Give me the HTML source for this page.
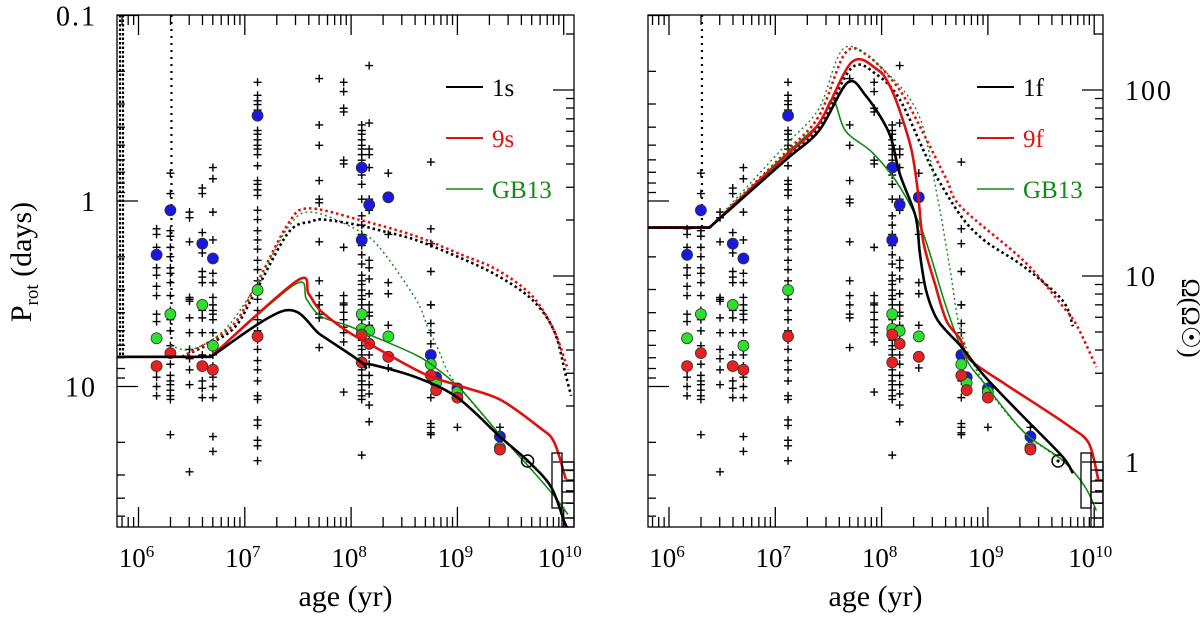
<!DOCTYPE html>
<html><head><meta charset="utf-8"><style>
html,body{margin:0;padding:0;background:#fff;}
svg{display:block;font-family:"Liberation Serif","DejaVu Serif",serif;}
</style></head><body>
<svg id="fig" width="1200" height="624" viewBox="0 0 1200 624" xmlns="http://www.w3.org/2000/svg"></svg>
<script>
// ===== data (log10 age in yr; left panel: log10 P_rot [days]; right panel: log10 Omega [Omega_sun]) =====
const clusterLogAge = [6.17,6.30,6.48,6.60,6.70,7.12,7.70,7.93,8.10,8.17,8.35,8.75,9.00,9.40];
const clusterLogP = [
 [0.15,0.18,0.25,0.36,0.40,0.46,0.51,0.61,0.65,0.91,0.95,1.00,1.05],
 [-0.15,-0.04,0.16,0.19,0.25,0.30,0.36,0.39,0.44,0.51,0.61,0.59,0.64,0.70,0.78,0.83,0.88,0.94,0.97,0.99,1.02,1.05,1.07,1.26],
 [0.06,0.09,0.22,0.52,0.54,0.53,0.63,0.71,0.80,0.85,0.91,0.99,1.46],
 [-0.07,-0.04,0.17,0.28,0.38,0.41,0.44,0.55,0.59,0.63,0.71,0.83,0.97,1.01,1.06],
 [-0.18,-0.12,0.06,0.21,0.39,0.44,0.52,0.56,0.61,0.59,0.64,0.71,0.77,0.83,0.89,0.95,1.00,1.06,1.27,1.35],
 [-0.64,-0.57,-0.54,-0.52,-0.49,-0.38,-0.36,-0.33,-0.30,-0.28,-0.25,-0.19,-0.11,-0.09,-0.06,-0.03,0.05,0.10,0.16,0.21,0.26,0.32,0.37,0.43,0.48,0.53,0.59,0.64,0.70,0.75,0.80,0.86,0.91,0.97,1.05,1.07,1.18,1.21,1.29,1.32,1.40],
 [-0.66,-0.41,-0.30,-0.11,-0.01,0.01,0.22,0.43,0.51,0.61,0.56,0.63,0.79],
 [-0.64,-0.59,-0.50,-0.48,-0.22,-0.20,0.25,0.51,0.55,0.56,0.60,0.64,0.68,0.71,0.76,1.03],
 [-0.41,-0.38,-0.36,-0.33,-0.30,-0.28,-0.25,-0.22,-0.19,-0.17,-0.14,-0.09,-0.01,0.08,0.13,0.18,0.24,0.29,0.34,0.40,0.43,0.45,0.48,0.51,0.53,0.56,0.59,0.61,0.64,0.67,0.70,0.72,0.75,0.78,0.80,0.83,0.86,0.89,0.91,0.94,0.97,0.99,1.02,1.05,1.07,1.37],
 [-0.73,-0.42,-0.28,-0.25,-0.18,-0.01,0.05,0.32,0.36,0.42,0.50,0.60,0.56,0.62,0.67,0.72,0.78,0.83,0.88,0.94,0.99,1.04,1.10,1.19],
 [-0.15,0.18,0.44,0.50,0.67,0.85,0.90],
 [-0.21,0.15,0.23,0.38,0.56,0.56,0.66,0.71,0.77,0.83,0.89,0.97,1.06,1.20,1.22,1.25,1.26],
 [1.01,1.07,1.22],
 [1.22]
];
const blueAge  = [6.17,6.30,6.60,6.70,7.12,8.10,8.10,8.17,8.35,8.75,8.80,9.00,9.40];
const blueLogP = [0.29,0.05,0.23,0.31,-0.46,-0.18,0.21,0.02,-0.02,0.83,0.95,1.01,1.27];
const greenAge  = [6.17,6.30,6.60,6.70,7.12,8.10,8.10,8.17,8.35,8.75,8.80,9.00,9.40];
const greenLogP = [0.74,0.61,0.56,0.78,0.48,0.61,0.69,0.70,0.73,0.88,0.98,1.03,1.33];
const redAge  = [6.17,6.30,6.60,6.70,7.12,8.10,8.10,8.17,8.35,8.75,8.80,9.00,9.40];
const redLogP = [0.89,0.82,0.89,0.91,0.73,0.72,0.87,0.77,0.84,0.94,1.02,1.06,1.34];

// left panel model curves (log age, log P); first segment is the flat disk-locked phase
const s1Age = [5.80,6.68,7.38,7.71,8.00,8.12,8.14,8.17,8.61,9.00,9.40,9.66,9.88,10.00,10.04];
const s1LogP = [0.84,0.84,0.59,0.72,0.83,0.88,0.90,0.88,0.95,1.06,1.27,1.40,1.54,1.72,1.77];
const s9Age = [5.80,6.68,7.49,7.60,7.71,7.96,8.17,8.68,9.04,9.40,9.77,9.91,10.02];
const s9LogP = [0.84,0.84,0.43,0.50,0.59,0.70,0.77,0.93,1.00,1.07,1.22,1.30,1.50];
const sGBAge = [5.80,6.68,7.47,7.58,7.71,7.96,8.17,8.61,8.82,9.04,9.40,9.70,9.91,10.04];
const sGBLogP = [0.84,0.84,0.45,0.53,0.62,0.67,0.72,0.83,0.91,1.02,1.26,1.45,1.59,1.69];
const s1dAge = [6.41,6.87,7.09,7.41,7.63,7.74,8.07,8.28,8.61,9.04,9.37,9.70,9.91,10.02,10.07];
const s1dLogP = [0.84,0.70,0.50,0.17,0.11,0.10,0.13,0.16,0.21,0.31,0.40,0.53,0.70,0.94,1.05];
const s9dAge = [6.41,6.87,7.09,7.41,7.60,8.07,8.61,9.04,9.37,9.70,9.91,10.04];
const s9dLogP = [0.84,0.68,0.47,0.12,0.04,0.10,0.19,0.29,0.37,0.51,0.70,0.91];
const sGBdAge = [6.30,6.50,6.80,7.09,7.41,7.63,8.07,8.28,8.61,8.72,8.82,8.91,9.04,9.40,9.70];
const sGBdLogP = [0.78,0.80,0.70,0.47,0.14,0.06,0.16,0.26,0.53,0.68,0.80,0.92,1.02,1.26,1.45];

// right panel model curves (log age, log Omega)
const f1Age = [5.80,6.38,7.09,7.41,7.68,7.85,8.07,8.17,8.32,8.36,8.42,8.53,8.75,8.97,9.34,9.70,9.80];
const f1LogO = [1.26,1.26,1.62,1.78,2.04,1.97,1.77,1.55,1.32,1.12,0.92,0.76,0.62,0.46,0.24,0.03,-0.06];
const f9Age = [5.80,6.38,7.09,7.41,7.72,7.96,8.07,8.17,8.28,8.34,8.39,8.50,8.61,8.74,8.83,9.16,9.51,9.77,9.95,10.04];
const f9LogO = [1.26,1.26,1.64,1.82,2.15,2.11,2.03,1.89,1.68,1.46,1.19,0.96,0.76,0.66,0.55,0.42,0.29,0.19,0.10,-0.10];
const fGBAge = [5.80,6.38,7.09,7.41,7.54,7.66,7.92,8.17,8.39,8.61,8.79,8.97,9.34,9.70,9.91,10.02];
const fGBLogO = [1.26,1.26,1.65,1.82,1.95,1.78,1.66,1.48,1.23,0.83,0.56,0.42,0.16,0.01,-0.13,-0.26];
const f1dAge = [5.80,6.38,7.09,7.41,7.72,7.96,8.17,8.39,8.50,8.75,8.97,9.34,9.70,9.80];
const f1dLogO = [1.26,1.26,1.63,1.80,2.12,2.08,1.95,1.68,1.55,1.32,1.19,1.05,0.87,0.73];
const f9dAge = [5.80,6.38,7.09,7.41,7.66,7.88,8.17,8.39,8.61,8.75,9.34,9.70,9.84,10.02];
const f9dLogO = [1.26,1.26,1.66,1.86,2.20,2.18,2.00,1.77,1.52,1.37,1.08,0.84,0.73,0.51];
const fGBdAge = [6.38,7.09,7.41,7.66,8.07,8.36,8.53,8.64,8.75,8.97,9.34,9.70];
const fGBdLogO = [1.26,1.70,1.90,2.23,2.08,1.85,1.41,1.05,0.69,0.42,0.16,0.01];

const xTickDecades = [6,7,8,9,10];
const pTickLabels = ["0.1","1","10"];
const pTickLogs = [-1,0,1];
const oTickLabels = ["1","10","100"];
const oTickLogs = [0,1,2];

// ===== scales =====
const NS = "http://www.w3.org/2000/svg";
const svg = document.getElementById('fig');
const TOP = 15, BOT = 527;
const PANELS = [{x0:117, x1:574, ref:138.5}, {x0:648, x1:1103, ref:669}];
const DEC = 106.3;
function xs(p, la){ return PANELS[p].ref + DEC*(la-6); }
function yP(lp){ return 201 + 185.5*lp; }
function yO(lo){ return 462 - 186*lo; }
function mk(tag, attrs, parent){ const e=document.createElementNS(NS,tag); for(const k in attrs) e.setAttribute(k,attrs[k]); (parent||svg).appendChild(e); return e; }
// smooth path; if flatStart, the first segment is straight and the curve has a sharp kink at point 1
function smoothPath(pts, flatStart){
  let d = 'M'+pts[0][0].toFixed(1)+' '+pts[0][1].toFixed(1);
  let start = 0;
  if(flatStart){ d += 'L'+pts[1][0].toFixed(1)+' '+pts[1][1].toFixed(1); start = 1; }
  for(let i=start;i<pts.length-1;i++){
    const p0=pts[Math.max(start,i-1)], p1=pts[i], p2=pts[i+1], p3=pts[Math.min(pts.length-1,i+2)];
    const t=0.16;
    const c1=[p1[0]+(p2[0]-p0[0])*t, p1[1]+(p2[1]-p0[1])*t];
    const c2=[p2[0]-(p3[0]-p1[0])*t, p2[1]-(p3[1]-p1[1])*t];
    d+='C'+c1[0].toFixed(1)+' '+c1[1].toFixed(1)+' '+c2[0].toFixed(1)+' '+c2[1].toFixed(1)+' '+p2[0].toFixed(1)+' '+p2[1].toFixed(1);
  }
  return d;
}

function drawPanel(p){
  const P = PANELS[p];
  const g = mk('g',{});
  
  
  const cp = mk('clipPath',{id:'clip'+p}, g);
  mk('rect',{x:P.x0,y:TOP,width:P.x1-P.x0,height:BOT-TOP}, cp);
  const ax = mk('g',{stroke:'#000','stroke-width':1.3,fill:'none'}, g);
  
  
  mk('rect',{x:P.x0,y:TOP,width:P.x1-P.x0,height:BOT-TOP}, ax);
  for(let d=5; d<=10; d++){
    for(let m=1;m<=9;m++){
      const la = d+Math.log10(m);
      const x = xs(p,la);
      if(x<P.x0-0.5||x>P.x1+0.5) continue;
      const L = m===1?20:10;
      mk('line',{x1:x,y1:BOT,x2:x,y2:BOT-L},ax);
      mk('line',{x1:x,y1:TOP,x2:x,y2:TOP+L},ax);
    }
  }
  for(let d=-1; d<=1; d++){
    for(let m=1;m<=9;m++){
      const lp = d+Math.log10(m);
      const y = yP(lp);
      if(y<TOP-0.5||y>BOT+0.5) continue;
      const L = m===1?21:8;
      mk('line',{x1:P.x0,y1:y,x2:P.x0+L,y2:y},ax);
    }
  }
  for(let d=-1; d<=2; d++){
    for(let m=1;m<=9;m++){
      const lo = d+Math.log10(m);
      const y = yO(lo);
      if(y<TOP-0.5||y>BOT+0.5) continue;
      const L = m===1?21:8;
      mk('line',{x1:P.x1,y1:y,x2:P.x1-L,y2:y},ax);
    }
  }
  xTickDecades.forEach(d=>{
    const t = mk('text',{x:xs(p,d)-(d>=10?4:2),y:567,'font-size':27,'text-anchor':'middle',fill:'#000'}, g);
    
    
    t.appendChild(document.createTextNode('10'));
    const s = mk('tspan',{'font-size':17,dy:-10}, t);
    s.textContent = String(d);
  });
  const xl = mk('text',{x:(P.x0+P.x1)/2,y:606,'font-size':30,'text-anchor':'middle',fill:'#000'}, g);
  
  
  xl.textContent = 'age (yr)';

  const data = mk('g',{'clip-path':'url(#clip'+p+')'}, g);
  const vx = xs(p,6.31);
  const vd = mk('line',{x1:vx,y1:TOP,x2:vx,y2:p===0?yP(0.84):yO(1.26),stroke:'#000','stroke-width':2.2,'stroke-dasharray':'2 5'}, data);
  
  
  if(p===0){
    [120,123].forEach(x=>{
      const l = mk('line',{x1:x,y1:TOP,x2:x,y2:yP(0.84),stroke:'#000','stroke-width':2.2,'stroke-dasharray':'2.5 2'}, data);
      
      
    });
  }
  const cg = mk('g',{stroke:'#000','stroke-width':1.4}, data);
  
  
  clusterLogAge.forEach((la,i)=>{
    clusterLogP[i].forEach(lp=>{
      const x = xs(p,la), y = yP(lp);
      const c = mk('path',{d:`M${x-4} ${y}H${x+4}M${x} ${y-4}V${y+4}`}, cg);
      
      
    });
  });
  function curve(ages, vals, yf, color, w, dash, name){
    const pts = ages.map((a,i)=>[xs(p,a), yf(vals[i])]);
    const flat = ages.length>2 && vals[0]===vals[1];
    const a = {d:smoothPath(pts, flat),stroke:color,'stroke-width':w,fill:'none','stroke-linejoin':'round'};
    if(dash){ a['stroke-dasharray']=dash; }
    const e = mk('path',a,data);
    
    
  }
  if(p===0){
    curve(s1dAge,s1dLogP,yP,'#000',2.6,'2.5 3','curve-1s-dotted');
    curve(s9dAge,s9dLogP,yP,'#e01010',2.6,'2.5 3','curve-9s-dotted');
    curve(sGBdAge,sGBdLogP,yP,'#108a10',1.4,'2 3','curve-gb13-dotted');
  } else {
    curve(f1dAge,f1dLogO,yO,'#000',2.6,'2.5 3','curve-1f-dotted');
    curve(f9dAge,f9dLogO,yO,'#e01010',2.6,'2.5 3','curve-9f-dotted');
    curve(fGBdAge,fGBdLogO,yO,'#108a10',1.4,'2 3','curve-gb13-dotted');
  }
  function dots(ages, lps, fill, name){
    ages.forEach((a,i)=>{
      const x=xs(p,a), y=yP(lps[i]);
      const c = mk('circle',{cx:x,cy:y,r:5.5,fill:fill,stroke:'#333','stroke-width':0.8}, data);
      
      
    });
  }
  dots(blueAge,blueLogP,'#1818e0','percentile-marker-blue');
  dots(greenAge,greenLogP,'#2ee02e','percentile-marker-green');
  dots(redAge,redLogP,'#e82020','percentile-marker-red');
  if(p===0){
    curve(sGBAge,sGBLogP,yP,'#108a10',1.6,null,'curve-gb13');
    curve(s9Age,s9LogP,yP,'#e01010',2.6,null,'curve-9s');
    curve(s1Age,s1LogP,yP,'#000',2.6,null,'curve-1s');
  } else {
    curve(fGBAge,fGBLogO,yO,'#108a10',1.6,null,'curve-gb13');
    curve(f9Age,f9LogO,yO,'#e01010',2.6,null,'curve-9f');
    curve(f1Age,f1LogO,yO,'#000',2.6,null,'curve-1f');
  }
  const sx = xs(p,9.66), sy = 461;
  const sg = mk('g',{}, g);
  
  
  mk('circle',{cx:sx,cy:sy,r:6,fill:'none',stroke:'#000','stroke-width':1.5}, sg);
  mk('circle',{cx:sx,cy:sy,r:1.6,fill:'#000'}, sg);
  const bx = P.x1-22;
  const bg = mk('g',{fill:'none',stroke:'#000','stroke-width':1.3}, g);
  
  
  mk('rect',{x:bx,y:453,width:10,height:55}, bg);
  mk('rect',{x:bx+10,y:462,width:12,height:65}, bg);
  [470,481,492,503,518].forEach(y=>mk('line',{x1:bx+10,y1:y,x2:P.x1,y2:y},bg));
  const labels = p===0?['1s','9s','GB13']:['1f','9f','GB13'];
  const cols = ['#000','#e01010','#108a10'];
  const lx = p===0?446:977;
  labels.forEach((lab,i)=>{
    const y = 87+51*i;
    const lg = mk('g',{}, g);
    
    
    mk('line',{x1:lx,y1:y,x2:lx+37,y2:y,stroke:cols[i],'stroke-width':i===2?1.6:2}, lg);
    const t = mk('text',{x:lx+46,y:y+9,'font-size':25,fill:cols[i]}, lg);
    t.textContent = lab;
  });
}
drawPanel(0);
drawPanel(1);

pTickLabels.forEach((lab,i)=>{
  const t = mk('text',{x:97,y:yP(pTickLogs[i])+10,'font-size':28,'text-anchor':'end','letter-spacing':2,fill:'#000'});
  
  
  t.textContent = lab;
});
oTickLabels.forEach((lab,i)=>{
  const t = mk('text',{x:1125,y:yO(oTickLogs[i])+10,'font-size':28,'letter-spacing':2,fill:'#000'});
  
  
  t.textContent = lab;
});
const yl = mk('text',{x:0,y:0,'font-size':30,'text-anchor':'middle',fill:'#000',transform:'translate(31,262) rotate(-90)'});


yl.appendChild(document.createTextNode('P'));
const sub = mk('tspan',{'font-size':19,dy:7},yl); sub.textContent='rot';
const sp = mk('tspan',{dy:-7},yl); sp.textContent='  (days)';
const yr = mk('text',{x:0,y:0,'font-size':26,'text-anchor':'middle',fill:'#000',transform:'translate(1182,318) rotate(90)'});


yr.textContent = 'Ω(Ω☉)';
</script>
</body></html>
